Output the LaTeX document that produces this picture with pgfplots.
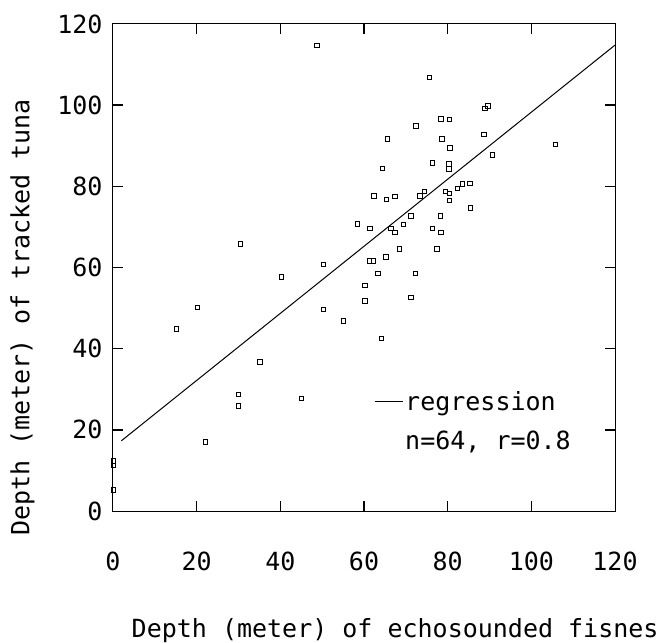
\documentclass[border=0pt]{standalone}
\usepackage{fontspec}
\setmainfont{DejaVu Sans Mono}
\usepackage{pgfplots}
\pgfplotsset{compat=1.18}
\pgfplotsset{shortline legend/.style={legend image code/.code={\draw[##1] (0pt,0pt) -- (28pt,0pt);}},
  tk/.style={black, line width=1.4pt, forget plot}}
\begin{document}
\begin{tikzpicture}
\begin{axis}[
  at={(0,0)}, anchor=south west,
  scale only axis, width=502pt, height=487pt,
  xmin=0, xmax=120, ymin=0, ymax=120,
  xtick={0,20,40,60,80,100,120}, ytick={0,20,40,60,80,100,120},
  major tick length=0pt,
  axis line style={line width=1pt},
  /pgf/number format/assume math mode=true,
  tick label style={font=\fontsize{25pt}{30pt}\selectfont},
  xticklabel style={yshift=-37pt},
  yticklabel style={xshift=-7pt},
  label style={font=\fontsize{25pt}{30pt}\selectfont},
  xlabel={Depth (meter) of echosounded fisnes},
  ylabel={Depth (meter) of tracked tuna},
  xlabel style={at={(axis description cs:0.562,-0.2136)}, anchor=north},
  ylabel style={at={(axis description cs:-0.149,0.398)}, anchor=south},
  legend style={draw=none, fill=none, at={(axis cs:62.4,30)}, anchor=north west,
    font=\fontsize{25pt}{30pt}\selectfont, row sep=15pt, inner sep=0pt},
  legend cell align=left,
]
% inward tick marks on all four sides
\addplot[tk] coordinates {(20,0) (20,2.5)};
\addplot[tk] coordinates {(40,0) (40,2.5)};
\addplot[tk] coordinates {(60,0) (60,2.5)};
\addplot[tk] coordinates {(80,0) (80,2.5)};
\addplot[tk] coordinates {(100,0) (100,2.5)};
\addplot[tk] coordinates {(20,120) (20,117.5)};
\addplot[tk] coordinates {(40,120) (40,117.5)};
\addplot[tk] coordinates {(60,120) (60,117.5)};
\addplot[tk] coordinates {(80,120) (80,117.5)};
\addplot[tk] coordinates {(100,120) (100,117.5)};
\addplot[tk] coordinates {(0,20) (2.4,20)};
\addplot[tk] coordinates {(0,40) (2.4,40)};
\addplot[tk] coordinates {(0,60) (2.4,60)};
\addplot[tk] coordinates {(0,80) (2.4,80)};
\addplot[tk] coordinates {(0,100) (2.4,100)};
\addplot[tk] coordinates {(120,20) (117.6,20)};
\addplot[tk] coordinates {(120,40) (117.6,40)};
\addplot[tk] coordinates {(120,60) (117.6,60)};
\addplot[tk] coordinates {(120,80) (117.6,80)};
\addplot[tk] coordinates {(120,100) (117.6,100)};
\addplot[only marks, mark=square, mark size=2.2pt, forget plot,
  mark options={line width=0.8pt, black}] coordinates {
(48.7,114.8) (58.4,70.7) (30.4,65.8) (40.3,57.7) (50.3,60.8) (20.2,50.1)
(15.1,44.9) (50.3,49.7) (55.1,46.8) (35.1,36.7) (30.0,28.8) (30.0,25.9)
(45.0,27.8) (22.1,17.0) (0.1,12.3) (0.1,11.3) (0.1,5.2)
(64.2,42.6) (60.2,51.8) (60.2,55.6) (71.2,52.7) (72.3,58.6) (63.3,58.5)
(61.3,61.6) (62.2,61.6) (65.2,62.6) (68.4,64.6) (77.4,64.6) (67.4,68.6)
(78.4,68.7) (75.6,106.8) (88.9,99.2) (89.6,99.8) (78.4,96.6) (80.4,96.5)
(72.4,94.9) (65.6,91.7) (78.6,91.7) (88.7,92.8) (80.5,89.5) (105.7,90.4)
(90.7,87.7) (64.4,84.4) (76.3,85.8) (80.3,85.5) (80.3,84.3) (62.4,77.6)
(65.4,76.8) (67.4,77.5) (73.4,77.6) (74.4,78.7) (79.4,78.7) (80.4,78.3)
(80.4,76.6) (82.3,79.5) (83.5,80.6) (85.3,80.7) (85.5,74.7) (61.4,69.6)
(66.4,69.7) (69.4,70.6) (71.2,72.7) (78.2,72.7) (76.4,69.7)
};
\addplot[black, line width=1pt, shortline legend]
  coordinates {(2,17.3) (120,114.8)};
\addlegendentry{regression}
\addlegendimage{empty legend}
\addlegendentry{n=64, r=0.8}
\end{axis}
\pgfresetboundingbox
\path[use as bounding box] (-113pt,-131pt) rectangle (550pt,511pt);
\end{tikzpicture}
\end{document}
